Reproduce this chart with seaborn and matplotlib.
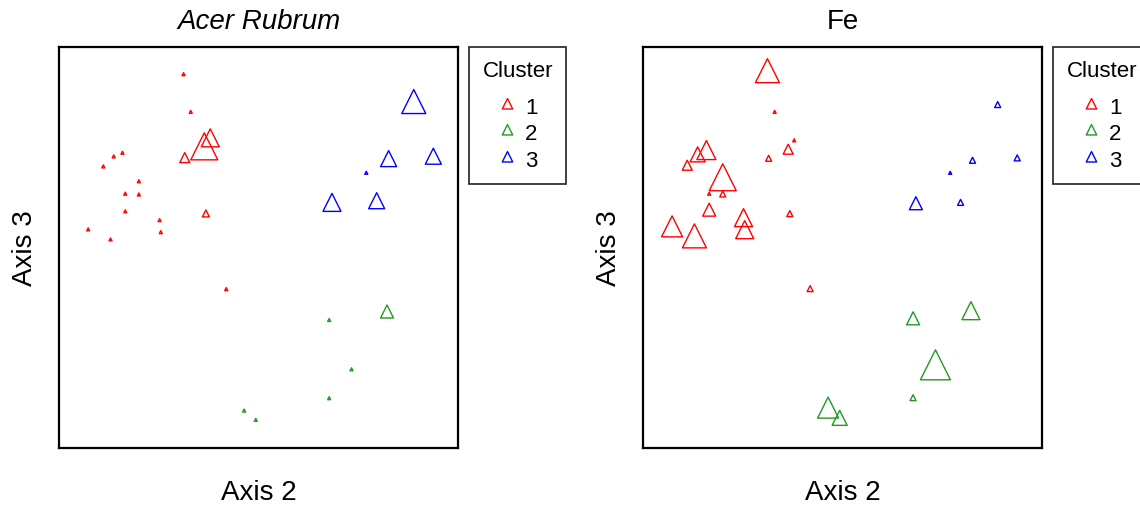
import pandas as pd
import matplotlib
matplotlib.use("Agg")
import matplotlib.pyplot as plt
from matplotlib.path import Path
from matplotlib.lines import Line2D
import seaborn as sns

# ordination scores (same sites in both panels), cluster membership
axis2 = [31.2, 33.0, 15.9, 13.7, 11.1, 20.0, 16.6, 20.0, 16.6, 25.2, 25.5, 7.3, 12.9,
         31.5, 36.8, 37.9, 36.4, 41.9,
         88.9, 82.6, 93.8, 77.0, 79.6, 68.4,
         82.2, 67.7, 73.3, 67.7, 46.4, 49.3]
axis3 = [93.1, 83.7, 73.5, 72.6, 70.1, 66.4, 63.3, 63.1, 58.9, 56.7, 53.7, 54.4, 51.9,
         72.0, 58.2, 76.6, 74.1, 39.5,
         85.4, 71.5, 72.1, 68.5, 61.0, 60.5,
         33.5, 31.8, 19.5, 12.3, 9.2, 6.9]
cluster = ["1"] * 18 + ["3"] * 6 + ["2"] * 6
# symbol size (relative) for each variable
size_acer = [3, 3, 3, 3, 3, 3, 3, 3, 3, 3, 3, 3, 3,
             10, 7, 18, 27, 3,
             24, 16, 16, 3, 16, 18,
             13, 3, 3, 3, 3, 3]
size_fe = [24, 3, 19, 15, 10, 27, 3, 6, 13, 18, 18, 21, 24,
           6, 6, 3, 10, 6,
           6, 6, 6, 3, 6, 13,
           18, 13, 30, 6, 21, 15]

titles = ["Acer Rubrum", "Fe"]
cluster_levels = ["1", "2", "3"]
colors = {"1": "#FF0000", "2": "#229922", "3": "#0000FF"}

df = pd.DataFrame({"Axis2": axis2, "Axis3": axis3, "Cluster": cluster,
                   "Acer Rubrum": size_acer, "Fe": size_fe})

# triangle with its centroid on the point (like R pch = 2)
tri = Path([(0, 1), (-0.75, -0.5), (0.75, -0.5), (0, 1)],
           [Path.MOVETO, Path.LINETO, Path.LINETO, Path.CLOSEPOLY])

sns.set_style("white")
plt.rcParams["font.family"] = ["Liberation Sans", "DejaVu Sans"]
plt.rcParams["text.color"] = "black"
plt.rcParams["axes.labelcolor"] = "black"

fig = plt.figure(figsize=(11.4, 5.1), dpi=100)
axes = [fig.add_axes([0.0518, 0.1196, 0.35, 0.7863]),
        fig.add_axes([0.5640, 0.1196, 0.35, 0.7863])]

for ax, var in zip(axes, titles):
    vals = sorted(set(df[var]))
    sns.scatterplot(data=df, x="Axis2", y="Axis3", hue="Cluster", hue_order=cluster_levels,
                    palette=colors, size=var, sizes={v: (0.96 * v) ** 2 for v in vals},
                    marker=tri, edgecolor="none", legend=False, ax=ax)
    coll = ax.collections[0]
    coll.set_edgecolors(coll.get_facecolors())
    coll.set_facecolors("none")
    coll.set_linewidth(1.0)

    ax.set_xlim(0, 100)
    ax.set_ylim(0, 100)
    ax.set_xticks([])
    ax.set_yticks([])
    for sp in ax.spines.values():
        sp.set_color("black")
        sp.set_linewidth(1.6)
    ax.set_xlabel("Axis 2", fontsize=20, labelpad=22, color="black")
    ax.set_ylabel("Axis 3", fontsize=20, labelpad=15, color="black")
    ax.set_title(var, fontsize=20, pad=14, color="black",
                 fontstyle="italic" if var == "Acer Rubrum" else "normal")

    handles = [Line2D([], [], marker=tri, linestyle="", markersize=10,
                      markerfacecolor="none", markeredgecolor=colors[c], markeredgewidth=1)
               for c in cluster_levels]
    leg = ax.legend(handles, cluster_levels, title="Cluster", loc="upper left",
                    bbox_to_anchor=(1.028, 1.0), fontsize=16, title_fontsize=16,
                    frameon=True, fancybox=False, framealpha=1, edgecolor="#333333",
                    borderpad=0.6, labelspacing=0.25, handlelength=0.8, handletextpad=0.4,
                    borderaxespad=0)
    leg._legend_box.sep = 11
    leg.get_frame().set_linewidth(1.3)

fig.savefig("out.png", dpi=100)
